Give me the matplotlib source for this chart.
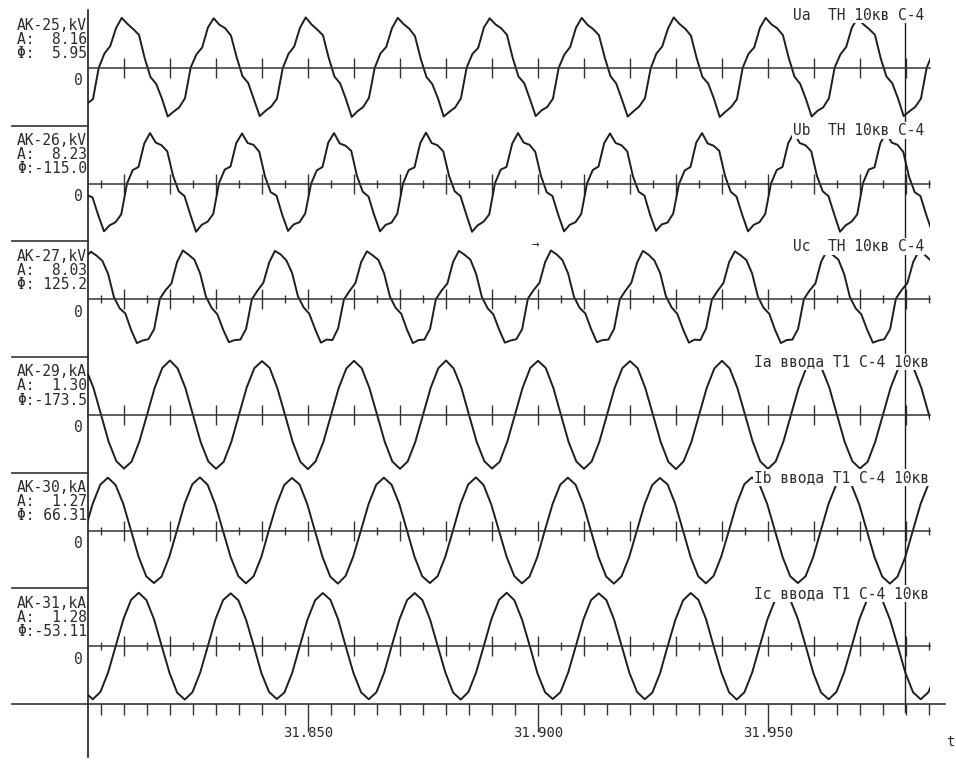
import numpy as np
import matplotlib
matplotlib.use("Agg")
import matplotlib.pyplot as plt
from matplotlib.lines import Line2D
from matplotlib.ticker import MultipleLocator
from matplotlib.transforms import blended_transform_factory

W, H = 956, 769
font = "DejaVu Sans Mono"
ink = "#1e1e1e"
txt = "#2b2b2b"

# channel info
names = ["AK-25,kV", "AK-26,kV", "AK-27,kV", "AK-29,kA", "AK-30,kA", "AK-31,kA"]
amps = ["8.16", "8.23", "8.03", "1.30", "1.27", "1.28"]
phis = ["5.95", "-115.0", "125.2", "-173.5", "66.31", "-53.11"]
titles = ["Ua  ТН 10кв С-4", "Ub  ТН 10кв С-4", "Uc  ТН 10кв С-4",
          "Ia ввода Т1 С-4 10кв", "Ib ввода Т1 С-4 10кв", "Ic ввода Т1 С-4 10кв"]

# samples: time of first sample (ms after 31.800 s) and step (ms)
starts = [2.0, 1.9, 1.55, 0.0, 1.5, -0.13]
steps = [1.25, 1.25, 1.25, 20 / 12, 20 / 12, 20 / 12]

ua = [-8.2, -7.2, 0.0, 3.3, 5.0, 9.1, 11.5, 10.1, 8.9, 7.6, 2.2, -2.1, -3.7, -7.1, -11.2, -10.1,
      -9.1, -7.0, 0.1, 3.1, 4.7, 9.3, 11.4, 9.9, 9.1, 7.4, 2.4, -1.9, -3.5, -7.3, -11.1, -9.9,
      -8.9, -7.1, -0.1, 3.2, 4.9, 9.2, 11.6, 10.0, 8.8, 7.5, 2.3, -2.0, -3.6, -7.2, -11.3, -10.0,
      -9.0, -6.9, 0.0, 3.3, 4.8, 9.1, 11.5, 10.1, 9.0, 7.3, 2.1, -2.1, -3.7, -7.0, -11.2, -10.1,
      -9.1, -7.0, 0.1, 3.2, 4.6, 9.3, 11.4, 10.0, 9.1, 7.6, 2.3, -2.0, -3.5, -7.2, -11.1, -9.8,
      -9.0, -7.1, 0.0, 3.1, 4.8, 9.2, 11.5, 9.9, 8.9, 7.5, 2.4, -1.9, -3.6, -7.3, -11.2, -10.0,
      -8.9, -7.0, -0.1, 3.3, 4.9, 9.0, 11.6, 10.1, 9.0, 7.4, 2.2, -2.1, -3.6, -7.1, -11.3, -10.1,
      -9.0, -7.2, 0.0, 3.2, 4.7, 9.2, 11.5, 10.0, 9.1, 7.5, 2.3, -2.0, -3.7, -7.2, -11.2, -9.9,
      -9.1, -7.0, 0.1, 3.1, 4.8, 9.3, 11.4, 10.0, 8.9, 7.6, 2.2, -2.0, -3.5, -7.0, -11.1, -10.0,
      -9.0, -7.1, 0.0, 3.2]

ub = [-2.6, -3.2, -7.3, -11.0, -9.6, -8.9, -7.1, 0.0, 3.1, 3.8, 9.2, 11.6, 9.4, 8.8, 7.4, 1.8,
      -1.8, -2.9, -7.1, -11.1, -9.5, -8.8, -7.0, 0.1, 3.2, 3.9, 9.3, 11.5, 9.3, 8.9, 7.3, 1.6,
      -2.0, -2.8, -7.2, -10.9, -9.4, -8.9, -6.9, -0.1, 3.0, 3.8, 9.4, 11.6, 9.2, 8.7, 7.5, 1.7,
      -1.9, -3.0, -7.3, -11.0, -9.5, -9.0, -7.0, 0.0, 3.1, 3.7, 9.3, 11.7, 9.3, 8.8, 7.4, 1.8,
      -1.8, -2.9, -7.1, -11.1, -9.6, -8.8, -7.1, 0.1, 3.2, 3.8, 9.2, 11.6, 9.4, 8.9, 7.3, 1.7,
      -2.0, -2.9, -7.2, -11.0, -9.5, -8.9, -7.0, 0.0, 3.1, 3.9, 9.3, 11.5, 9.3, 8.8, 7.4, 1.6,
      -1.9, -2.8, -7.3, -10.9, -9.4, -9.0, -6.9, -0.1, 3.0, 3.8, 9.4, 11.6, 9.2, 8.7, 7.5, 1.8,
      -1.9, -3.0, -7.2, -11.0, -9.5, -8.9, -7.0, 0.0, 3.1, 3.8, 9.3, 11.6, 9.3, 8.8, 7.4, 1.7,
      -1.8, -2.9, -7.1, -11.1, -9.6, -8.8, -7.1, 0.1, 3.2, 3.7, 9.2, 11.7, 9.4, 8.9, 7.3, 1.6,
      -2.0, -2.9, -7.2, -11.0]

uc = [9.6, 10.9, 10.0, 8.8, 5.8, 0.5, -2.1, -3.3, -7.1, -10.1, -9.5, -9.2, -6.9, 0.1, 2.1, 3.6,
      8.6, 11.2, 10.2, 9.1, 5.9, 0.6, -2.0, -3.5, -7.0, -9.9, -9.4, -9.3, -6.8, 0.0, 2.0, 3.8,
      8.4, 11.1, 10.3, 8.9, 6.0, 0.7, -1.9, -3.4, -6.9, -10.0, -9.3, -9.4, -6.7, -0.1, 1.9, 3.7,
      8.5, 11.0, 10.1, 9.0, 5.9, 0.6, -2.0, -3.4, -7.1, -10.1, -9.4, -9.3, -6.8, 0.0, 2.0, 3.6,
      8.6, 11.1, 10.2, 9.1, 5.8, 0.5, -2.1, -3.5, -7.0, -10.0, -9.5, -9.2, -6.9, 0.1, 2.1, 3.7,
      8.5, 11.2, 10.3, 9.0, 5.9, 0.6, -2.0, -3.3, -6.9, -9.9, -9.4, -9.3, -6.8, 0.0, 2.0, 3.8,
      8.4, 11.1, 10.2, 8.9, 6.0, 0.7, -1.9, -3.4, -7.0, -10.0, -9.3, -9.4, -6.7, -0.1, 1.9, 3.7,
      8.5, 11.0, 10.1, 9.0, 5.9, 0.6, -2.0, -3.4, -7.1, -10.1, -9.4, -9.3, -6.8, 0.0, 2.0, 3.6,
      8.6, 11.1, 10.2, 9.1, 5.8, 0.5, -2.1, -3.5, -7.0, -10.0, -9.5, -9.2, -6.9, 0.1, 2.1, 3.7,
      8.5, 11.1, 10.2, 9.0, 5.9]

ia = [1.84, 1.59, 0.93, 0.01, -0.92, -1.58, -1.83, -1.59, -0.91, 0.00, 0.92, 1.60,
      1.85, 1.58, 0.92, -0.01, -0.93, -1.59, -1.84, -1.60, -0.92, 0.01, 0.93, 1.59,
      1.83, 1.60, 0.91, 0.00, -0.92, -1.60, -1.85, -1.58, -0.93, -0.01, 0.91, 1.58,
      1.84, 1.59, 0.92, 0.01, -0.91, -1.59, -1.84, -1.59, -0.92, 0.00, 0.92, 1.59,
      1.85, 1.58, 0.93, 0.00, -0.92, -1.58, -1.83, -1.60, -0.91, 0.01, 0.93, 1.60,
      1.84, 1.60, 0.92, -0.01, -0.93, -1.59, -1.84, -1.59, -0.92, 0.00, 0.92, 1.59,
      1.83, 1.59, 0.91, 0.00, -0.92, -1.60, -1.85, -1.58, -0.93, -0.01, 0.91, 1.58,
      1.84, 1.58, 0.92, 0.01, -0.91, -1.59, -1.84, -1.59, -0.92, 0.00, 0.92, 1.60,
      1.85, 1.59, 0.93, 0.00, -0.92, -1.58, -1.83, -1.60, -0.91, 0.01, 0.93, 1.59,
      1.84, 1.59, 0.92, 0.00, -0.92]

ib = [0.00, 0.90, 1.56, 1.80, 1.55, 0.91, 0.01, -0.89, -1.56, -1.79, -1.57, -0.90,
      -0.01, 0.91, 1.57, 1.81, 1.56, 0.89, 0.00, -0.90, -1.55, -1.80, -1.56, -0.91,
      0.01, 0.89, 1.55, 1.79, 1.57, 0.90, -0.01, -0.91, -1.57, -1.81, -1.55, -0.89,
      0.00, 0.90, 1.56, 1.80, 1.56, 0.91, 0.01, -0.90, -1.56, -1.79, -1.56, -0.90,
      -0.01, 0.91, 1.57, 1.81, 1.55, 0.89, 0.00, -0.89, -1.55, -1.80, -1.57, -0.91,
      0.01, 0.90, 1.56, 1.80, 1.56, 0.90, -0.01, -0.91, -1.57, -1.81, -1.56, -0.90,
      0.00, 0.89, 1.55, 1.79, 1.57, 0.91, 0.01, -0.90, -1.56, -1.80, -1.55, -0.89,
      -0.01, 0.90, 1.57, 1.81, 1.56, 0.90, 0.00, -0.90, -1.56, -1.79, -1.56, -0.90,
      0.01, 0.91, 1.56, 1.80, 1.55, 0.89, -0.01, -0.91, -1.57, -1.81, -1.57, -0.91,
      0.00, 0.90, 1.56, 1.80, 1.56]

ic = [-0.91, -1.57, -1.81, -1.56, -0.90, 0.01, 0.92, 1.58, 1.82, 1.57, 0.91, 0.00,
      -0.90, -1.58, -1.82, -1.57, -0.91, -0.01, 0.91, 1.57, 1.80, 1.56, 0.90, 0.01,
      -0.92, -1.56, -1.80, -1.58, -0.92, 0.00, 0.90, 1.56, 1.81, 1.58, 0.92, -0.01,
      -0.91, -1.57, -1.81, -1.57, -0.91, 0.01, 0.91, 1.57, 1.81, 1.57, 0.91, 0.00,
      -0.90, -1.58, -1.82, -1.56, -0.90, 0.00, 0.92, 1.58, 1.82, 1.56, 0.90, 0.01,
      -0.92, -1.57, -1.80, -1.57, -0.91, -0.01, 0.91, 1.57, 1.80, 1.57, 0.91, 0.00,
      -0.91, -1.56, -1.81, -1.58, -0.92, 0.01, 0.90, 1.56, 1.81, 1.58, 0.92, -0.01,
      -0.90, -1.57, -1.82, -1.57, -0.91, 0.00, 0.91, 1.57, 1.82, 1.57, 0.91, 0.00,
      -0.92, -1.58, -1.81, -1.56, -0.90, 0.00, 0.92, 1.58, 1.81, 1.56, 0.90, 0.01,
      -0.91, -1.57, -1.81, -1.57, -0.91]

waves = [ua, ub, uc, ia, ib, ic]
ylims = [13.3, 13.3, 13.3, 1.97, 1.97, 1.97]
small_ticks = [False, True, True, False, True, True]

t_cursor = 31.9798
t_left = 31.80217
t_right = 31.98522
t_axis_end = 31.98848
xlabels = [31.850, 31.900, 31.950]


def fx(x):
    return x / W


def fy(y):
    return 1 - y / H


fig = plt.figure(figsize=(W / 100, H / 100), dpi=100)
fig.patch.set_facecolor("white")

band_top = 10.0
band_h = (704.0 - band_top) / 6

for k in range(6):
    top = band_top + k * band_h
    ax = fig.add_axes([fx(88), fy(top + band_h), fx(930) - fx(88), band_h / H])
    t = 31.800 + (starts[k] + steps[k] * np.arange(len(waves[k]))) / 1000.0
    ax.plot(t, waves[k], color=ink, lw=1.4)
    ax.axvline(t_cursor, color=ink, lw=1.0)
    ax.set_xlim(t_left, t_right)
    ax.set_ylim(-ylims[k], ylims[k])
    ax.set_facecolor("none")

    # baseline with time marks
    for s in ["top", "right"]:
        ax.spines[s].set_visible(False)
    ax.spines["bottom"].set_position(("data", 0))
    ax.spines["bottom"].set_color("#333333")
    ax.spines["bottom"].set_linewidth(1.1)
    ax.spines["left"].set_color(ink)
    ax.spines["left"].set_linewidth(1.2)
    ax.xaxis.set_major_locator(MultipleLocator(0.010))
    ax.xaxis.set_minor_locator(MultipleLocator(0.005))
    ax.tick_params(axis="x", which="major", direction="inout", length=15, width=1.0,
                   color="#333333", labelbottom=False)
    ax.tick_params(axis="x", which="minor", direction="inout",
                   length=6 if small_ticks[k] else 0, width=1.0, color="#333333")
    ax.set_yticks([])

    # left labels
    lines = [names[k], "A:%6s" % amps[k], "Φ:%6s" % phis[k]]
    for j, s in enumerate(lines):
        fig.text(fx(87), fy(top + 15 + 14 * j), s, ha="right", va="center",
                 family=font, fontsize=10.5, color=txt)
    fig.text(fx(83), fy(top + band_h / 2 + 13), "0", ha="right", va="center",
             family=font, fontsize=10.5, color=txt)

    # right title
    xr = 924 if k < 3 else 929
    fig.text(fx(xr), fy(top + 5), titles[k], ha="right", va="center",
             family=font, fontsize=10.5, color=txt,
             bbox=dict(facecolor="white", edgecolor="none", pad=0.5))

    # separator on the left
    fig.add_artist(Line2D([fx(12), fx(88)], [fy(top + band_h)] * 2,
                          transform=fig.transFigure, color="#333333", lw=1.2))

# time axis
tax = fig.add_axes([fx(88), fy(757), fx(945) - fx(88), (757 - 704) / H])
tax.set_xlim(t_left, t_axis_end)
tax.set_ylim(0, 1)
tax.set_facecolor("none")
tax.spines["bottom"].set_visible(False)
tax.spines["right"].set_visible(False)
tax.spines["top"].set_color("#333333")
tax.spines["top"].set_linewidth(1.2)
tax.spines["left"].set_color(ink)
tax.spines["left"].set_linewidth(1.2)
tax.xaxis.set_ticks_position("top")
tax.set_xticks(xlabels)
tax.xaxis.set_minor_locator(MultipleLocator(0.005))
tax.tick_params(axis="x", which="major", direction="in", length=20, width=1.0,
                color="#333333", labeltop=False, labelbottom=False)
tax.tick_params(axis="x", which="minor", direction="in", length=8, width=1.0,
                color="#333333")
tax.set_yticks([])
tax.axvline(t_cursor, ymin=0.85, ymax=1.0, color=ink, lw=1.0)
tr = blended_transform_factory(tax.transData, tax.transAxes)
for v in xlabels:
    tax.text(v, 0.45, "%.3f" % v, transform=tr, ha="center", va="center",
             family=font, fontsize=10, color=txt)

fig.text(fx(946), fy(742), "t", ha="left", va="center", family=font,
         fontsize=10, color=txt)
fig.text(fx(535), fy(245), "→", ha="center", va="center", family=font,
         fontsize=9, color=txt)

plt.savefig("out.png", dpi=100, facecolor="white")
plt.close()
